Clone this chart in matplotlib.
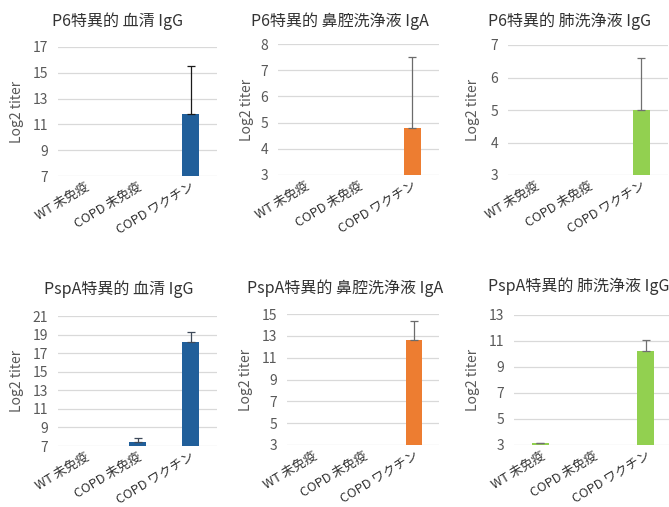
import numpy as np
import matplotlib
matplotlib.use("Agg")
import matplotlib.pyplot as plt

plt.rcParams['font.family'] = ['Noto Sans CJK JP', 'DejaVu Sans']

categories = ["WT 未免疫", "COPD 未免疫", "COPD ワクチン"]

titles = [
    "P6特異的 血清 IgG",
    "P6特異的 鼻腔洗浄液 IgA",
    "P6特異的 肺洗浄液 IgG",
    "PspA特異的 血清 IgG",
    "PspA特異的 鼻腔洗浄液 IgA",
    "PspA特異的 肺洗浄液 IgG",
]

# mean log2 titer per group (nan = no bar)
p6_serum_igg = [np.nan, np.nan, 11.8]
p6_nasal_iga = [np.nan, np.nan, 4.8]
p6_bal_igg = [np.nan, np.nan, 5.0]
pspa_serum_igg = [np.nan, 7.4, 18.2]
pspa_nasal_iga = [np.nan, np.nan, 12.6]
pspa_bal_igg = [3.15, np.nan, 10.2]

# upper error (SD)
p6_serum_igg_err = [0, 0, 3.7]
p6_nasal_iga_err = [0, 0, 2.7]
p6_bal_igg_err = [0, 0, 1.6]
pspa_serum_igg_err = [0, 0.45, 1.05]
pspa_nasal_iga_err = [0, 0, 1.8]
pspa_bal_igg_err = [0, 0, 0.85]

y_ranges = [(7, 17, 2), (3, 8, 1), (3, 7, 1), (7, 21, 2), (3, 15, 2), (3, 13, 2)]

values = [p6_serum_igg, p6_nasal_iga, p6_bal_igg,
          pspa_serum_igg, pspa_nasal_iga, pspa_bal_igg]
errors = [p6_serum_igg_err, p6_nasal_iga_err, p6_bal_igg_err,
          pspa_serum_igg_err, pspa_nasal_iga_err, pspa_bal_igg_err]

blue = "#215f9a"
orange = "#ed7d31"
green = "#92d050"
bar_colors = [blue, orange, green, blue, orange, green]
err_colors = ["#1a1a1a", "#6b6b6b", "#707070", "#3f4a5a", "#6b6b6b", "#707070"]

W, H = 669, 507
fig = plt.figure(figsize=(W / 100, H / 100), dpi=100)

# plot-area boxes in pixels: left, right, top, bottom
boxes = [
    (58, 217, 47, 176),
    (278, 439, 44, 175),
    (508, 668, 45, 175),
    (58, 217, 316, 446),
    (287, 439, 314, 445),
    (514, 672, 315, 445),
]
title_pos = [(118, 21), (340, 21), (569, 21), (119, 289), (345, 288), (579, 286)]
ylabel_x = [17, 247, 473, 17, 246, 473]

text_gray = "#595959"

for i in range(6):
    l, r, t, b = boxes[i]
    ax = fig.add_axes([l / W, 1 - b / H, (r - l) / W, (b - t) / H])
    lo, hi, step = y_ranges[i]
    x = np.arange(len(categories))
    vals = np.array(values[i], dtype=float)
    errs = np.array(errors[i], dtype=float)
    mask = ~np.isnan(vals)
    ax.bar(x[mask], vals[mask] - lo, bottom=lo, width=0.32,
           color=bar_colors[i], zorder=3)
    ax.errorbar(x[mask], vals[mask],
                yerr=[np.zeros(mask.sum()), errs[mask]],
                fmt="none", ecolor=err_colors[i], elinewidth=0.9,
                capsize=2.6, capthick=0.9, zorder=4)
    ax.set_xlim(-0.5, 2.5)
    ax.set_ylim(lo, hi)
    ax.set_yticks(np.arange(lo, hi + 0.01, step))
    ax.grid(axis="y", color="#d9d9d9", linewidth=0.9, zorder=0)
    for s in ax.spines.values():
        s.set_visible(False)
    ax.tick_params(axis="both", length=0, colors=text_gray)
    ax.tick_params(axis="y", labelsize=10, pad=7)
    ax.set_xticks(x)
    ax.set_xticklabels(categories, rotation=31, ha="right", va="top",
                       rotation_mode="anchor", fontsize=9.2, color="#333333")
    ax.tick_params(axis="x", pad=3)
    ax.set_facecolor("none")

    tx, ty = title_pos[i]
    fig.text(tx / W, 1 - ty / H, titles[i], ha="center", va="center",
             fontsize=11.5, color="#333333")
    cy = (t + b) / 2
    fig.text(ylabel_x[i] / W, 1 - cy / H, "Log2 titer", rotation=90,
             ha="center", va="center", fontsize=10, color=text_gray)

fig.savefig("out.png", dpi=100, facecolor="white")
